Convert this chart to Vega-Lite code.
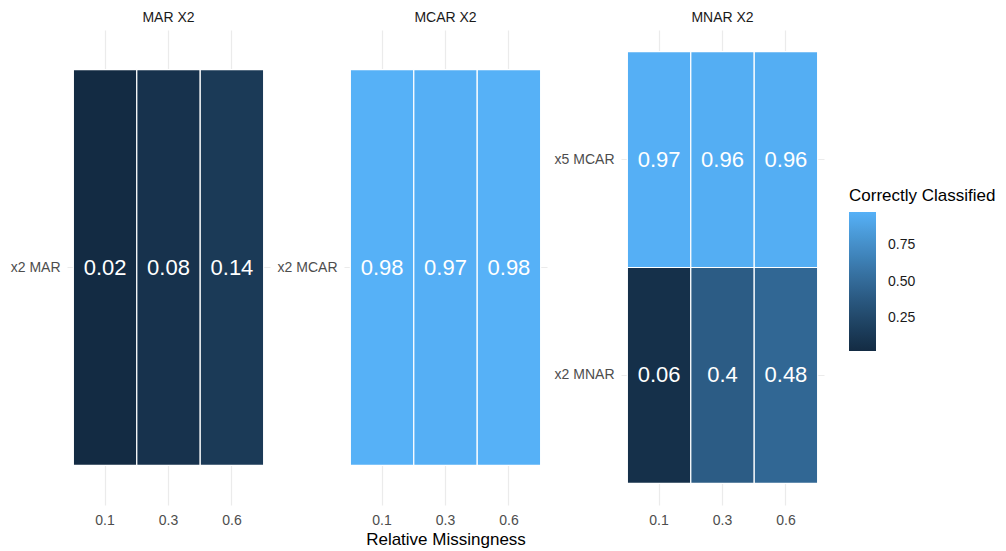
{
  "$schema": "https://vega.github.io/schema/vega-lite/v6.json",
  "background": "white",
  "padding": {"left": 10, "top": 11, "right": 5, "bottom": 5},
  "bounds": "flush",
  "spacing": 74,
  "config": {
    "font": "Liberation Sans",
    "view": {"stroke": null},
    "axis": {
      "ticks": false,
      "tickSize": 0,
      "domain": false,
      "grid": true,
      "gridColor": "#ebebeb",
      "gridWidth": 1.2,
      "bandPosition": 0.5,
      "zindex": 0,
      "labelColor": "#4d4d4d",
      "labelFontSize": 14,
      "labelFont": "Liberation Sans"
    },
    "axisX": {"labelAngle": 0, "labelPadding": 8, "titleFontSize": 17, "titleFontWeight": "normal", "titleColor": "#000000", "titlePadding": 4},
    "axisY": {"labelPadding": 7},
    "title": {"fontSize": 14, "fontWeight": "normal", "color": "#1a1a1a", "anchor": "middle", "frame": "group", "offset": 5},
    "scale": {"bandPaddingInner": 0, "bandPaddingOuter": 0.1}
  },
  "data": {
    "values": [
      {"mechanism": "MAR X2", "variable": "x2 MAR", "missingness": "0.1", "correct": 0.02},
      {"mechanism": "MAR X2", "variable": "x2 MAR", "missingness": "0.3", "correct": 0.08},
      {"mechanism": "MAR X2", "variable": "x2 MAR", "missingness": "0.6", "correct": 0.14},
      {"mechanism": "MCAR X2", "variable": "x2 MCAR", "missingness": "0.1", "correct": 0.98},
      {"mechanism": "MCAR X2", "variable": "x2 MCAR", "missingness": "0.3", "correct": 0.97},
      {"mechanism": "MCAR X2", "variable": "x2 MCAR", "missingness": "0.6", "correct": 0.98},
      {"mechanism": "MNAR X2", "variable": "x5 MCAR", "missingness": "0.1", "correct": 0.97},
      {"mechanism": "MNAR X2", "variable": "x5 MCAR", "missingness": "0.3", "correct": 0.96},
      {"mechanism": "MNAR X2", "variable": "x5 MCAR", "missingness": "0.6", "correct": 0.96},
      {"mechanism": "MNAR X2", "variable": "x2 MNAR", "missingness": "0.1", "correct": 0.06},
      {"mechanism": "MNAR X2", "variable": "x2 MNAR", "missingness": "0.3", "correct": 0.40},
      {"mechanism": "MNAR X2", "variable": "x2 MNAR", "missingness": "0.6", "correct": 0.48}
    ]
  },
  "hconcat": [
    {
      "title": "MAR X2",
      "width": 203,
      "height": 475,
      "transform": [{"filter": "datum.mechanism === 'MAR X2'"}],
      "encoding": {
        "x": {"field": "missingness", "type": "ordinal", "title": null},
        "y": {"field": "variable", "type": "nominal", "title": null, "sort": "descending"}
      },
      "layer": [
        {
          "mark": {"type": "rect", "stroke": "white", "strokeWidth": 1.2},
          "encoding": {
            "color": {
              "field": "correct",
              "type": "quantitative",
              "title": "Correctly Classified",
              "scale": {"range": ["#132B43", "#56B1F7"], "interpolate": "lab", "zero": false, "nice": false},
              "legend": {
                "orient": "none",
                "legendX": 782,
                "legendY": 158,
                "direction": "vertical",
                "gradientLength": 139,
                "gradientThickness": 27,
                "gradientStrokeWidth": 0,
                "values": [0.25, 0.5, 0.75],
                "format": ".2f",
                "labelFontSize": 14,
                "labelColor": "#1a1a1a",
                "labelOffset": 12,
                "titleFontSize": 17,
                "titleFontWeight": "normal",
                "titleColor": "#000000",
                "titlePadding": 7,
                "titleLimit": 300
              }
            }
          }
        },
        {
          "mark": {"type": "text", "color": "white", "fontSize": 22, "font": "Liberation Sans"},
          "encoding": {"text": {"field": "correct", "type": "quantitative", "format": ".2~f"}}
        }
      ]
    },
    {
      "title": "MCAR X2",
      "width": 203,
      "height": 475,
      "transform": [{"filter": "datum.mechanism === 'MCAR X2'"}],
      "encoding": {
        "x": {"field": "missingness", "type": "ordinal", "title": "Relative Missingness"},
        "y": {"field": "variable", "type": "nominal", "title": null, "sort": "descending"}
      },
      "layer": [
        {
          "mark": {"type": "rect", "stroke": "white", "strokeWidth": 1.2},
          "encoding": {"color": {"field": "correct", "type": "quantitative"}}
        },
        {
          "mark": {"type": "text", "color": "white", "fontSize": 22, "font": "Liberation Sans"},
          "encoding": {"text": {"field": "correct", "type": "quantitative", "format": ".2~f"}}
        }
      ]
    },
    {
      "title": "MNAR X2",
      "width": 203,
      "height": 475,
      "transform": [{"filter": "datum.mechanism === 'MNAR X2'"}],
      "encoding": {
        "x": {"field": "missingness", "type": "ordinal", "title": null},
        "y": {"field": "variable", "type": "nominal", "title": null, "sort": "descending"}
      },
      "layer": [
        {
          "mark": {"type": "rect", "stroke": "white", "strokeWidth": 1.2},
          "encoding": {"color": {"field": "correct", "type": "quantitative"}}
        },
        {
          "mark": {"type": "text", "color": "white", "fontSize": 22, "font": "Liberation Sans"},
          "encoding": {"text": {"field": "correct", "type": "quantitative", "format": ".2~f"}}
        }
      ]
    }
  ]
}
